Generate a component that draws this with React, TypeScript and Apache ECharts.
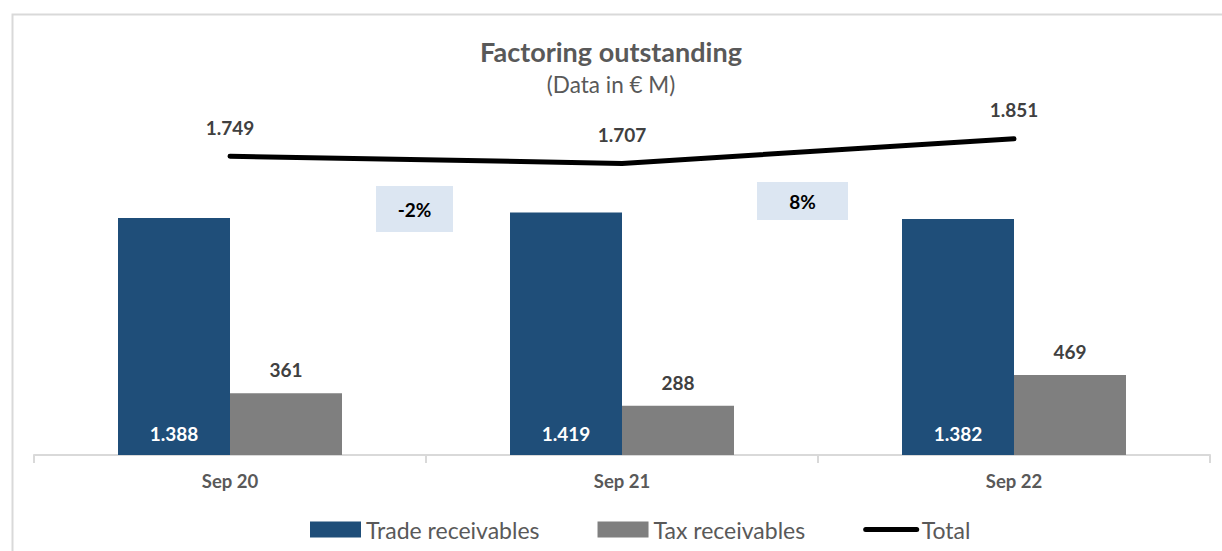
import React, { useEffect, useRef } from "react";
import * as echarts from "echarts";

const categories = ["Sep 20", "Sep 21", "Sep 22"];
const tradeReceivables = [1388, 1419, 1382];
const taxReceivables = [361, 288, 469];
const totals = [1749, 1707, 1851];
const growthLabels = ["-2%", "8%"];

const fmt = (v: number) => String(v).replace(/\B(?=(\d{3})+(?!\d))/g, ".");
const FONT = "Lato, 'Open Sans', sans-serif";

export default function App() {
  const ref = useRef<HTMLDivElement>(null);
  useEffect(() => {
    if (!ref.current) return;
    const chart = echarts.init(ref.current, null, { renderer: "svg" });
    const boxText = (t: string, x: number, y: number) => ({
      type: "text",
      x,
      y,
      style: {
        text: t,
        fontFamily: FONT,
        fontSize: 19,
        fontWeight: "bold",
        fill: "#000000",
        align: "center",
        verticalAlign: "middle",
      },
    });
    chart.setOption({
      animation: false,
      textStyle: { fontFamily: FONT },
      title: {
        text: "Factoring outstanding",
        subtext: "(Data in € M)",
        left: "center",
        top: 33,
        itemGap: 8,
        textStyle: { fontFamily: FONT, fontSize: 27, fontWeight: "bold", color: "#595959" },
        subtextStyle: { fontFamily: FONT, fontSize: 22.5, color: "#595959" },
      },
      legend: {
        bottom: 5,
        left: 305,
        itemGap: 58,
        itemWidth: 51,
        itemHeight: 16,
        textStyle: { fontFamily: FONT, fontSize: 23, color: "#595959" },
        data: [
          { name: "Trade receivables", icon: "rect" },
          { name: "Tax receivables", icon: "rect" },
          { name: "Total", itemStyle: { opacity: 0 }, lineStyle: { width: 5, color: "#000000", cap: "round" } },
        ],
      },
      grid: { left: 34, right: 12, top: 45, bottom: 96 },
      xAxis: {
        type: "category",
        data: categories,
        axisLine: { lineStyle: { color: "#d9d9d9", width: 2 } },
        axisTick: { show: true, length: 8, lineStyle: { color: "#d9d9d9", width: 2 } },
        axisLabel: { fontFamily: FONT, fontSize: 18.5, fontWeight: "bold", color: "#595959", margin: 16 },
      },
      yAxis: { type: "value", min: 0, max: 2400, show: false, splitLine: { show: false } },
      series: [
        {
          name: "Trade receivables",
          type: "bar",
          data: tradeReceivables,
          barWidth: 112,
          barGap: "0%",
          itemStyle: { color: "#1F4E79" },
          label: {
            show: true,
            position: "insideBottom",
            distance: 12,
            formatter: (p: any) => fmt(p.value),
            fontFamily: FONT,
            fontSize: 19,
            fontWeight: "bold",
            color: "#ffffff",
          },
        },
        {
          name: "Tax receivables",
          type: "bar",
          data: taxReceivables,
          barWidth: 112,
          barGap: "0%",
          itemStyle: { color: "#7F7F7F" },
          label: {
            show: true,
            position: "top",
            distance: 14,
            formatter: (p: any) => fmt(p.value),
            fontFamily: FONT,
            fontSize: 19,
            fontWeight: "bold",
            color: "#404040",
          },
        },
        {
          name: "Total",
          type: "line",
          data: totals,
          symbol: "circle",
          symbolSize: 1,
          showSymbol: true,
          lineStyle: { color: "#000000", width: 5, cap: "round" },
          itemStyle: { color: "#000000" },
          label: {
            show: true,
            position: "top",
            distance: 19,
            formatter: (p: any) => fmt(p.value),
            fontFamily: FONT,
            fontSize: 19,
            fontWeight: "bold",
            color: "#404040",
          },
        },
      ],
      graphic: [
        {
          type: "rect",
          left: 10,
          top: 12,
          shape: { width: 1240, height: 560 },
          style: { fill: "none", stroke: "#d9d9d9", lineWidth: 2 },
          silent: true,
        },
        {
          type: "group",
          left: 376,
          top: 186,
          children: [
            { type: "rect", shape: { x: 0, y: 0, width: 77, height: 46 }, style: { fill: "#DCE6F2" } },
            boxText(growthLabels[0], 38.5, 23),
          ],
        },
        {
          type: "group",
          left: 757,
          top: 182,
          children: [
            { type: "rect", shape: { x: 0, y: 0, width: 91, height: 38 }, style: { fill: "#DCE6F2" } },
            boxText(growthLabels[1], 45.5, 19),
          ],
        },
      ],
    });
    return () => chart.dispose();
  }, []);
  return (
    <div
      ref={ref}
      style={{ position: "fixed", left: 0, top: 0, width: 1222, height: 551, background: "#fff" }}
    />
  );
}
